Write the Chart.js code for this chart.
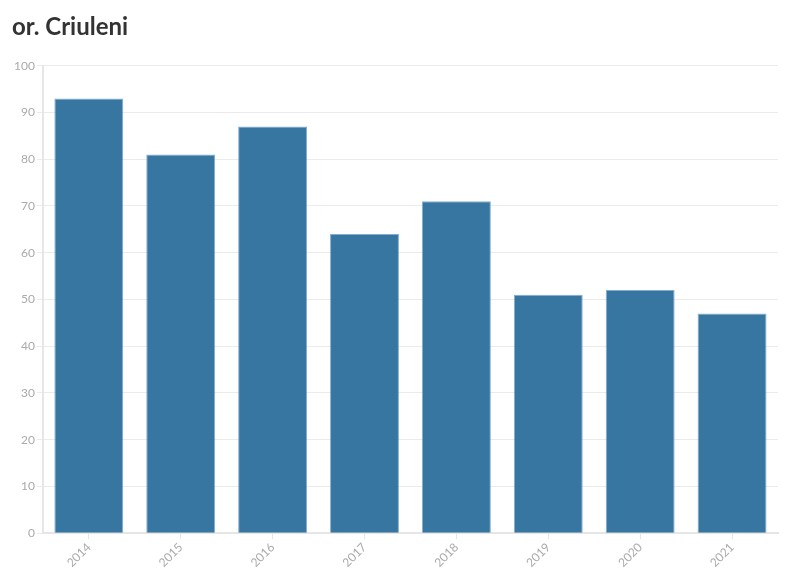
<!DOCTYPE html>
<html>
<head>
<meta charset="utf-8">
<script src="https://cdn.jsdelivr.net/npm/chart.js@4/dist/chart.umd.min.js"></script>
<style>
  html, body { margin: 0; padding: 0; background: #fff; }
  #wrap { width: 796px; height: 575px; }
</style>
</head>
<body>
<div id="wrap"><canvas id="chart"></canvas></div>
<script>
const years = ['2014', '2015', '2016', '2017', '2018', '2019', '2020', '2021'];
const values = [93, 81, 87, 64, 71, 51, 52, 47];
const chartTitle = 'or. Criuleni';

new Chart(document.getElementById('chart'), {
    type: 'bar',
    data: {
        labels: years,
        datasets: [{
            data: values,
            backgroundColor: 'rgba(37,106,152,0.92)',
            borderColor: 'rgba(100,155,195,0.8)',
            borderWidth: {top: 1, left: 1, right: 1, bottom: 0},
            barPercentage: 0.75,
            categoryPercentage: 1.0
        }]
    },
    options: {
        responsive: true,
        maintainAspectRatio: false,
        animation: false,
        layout: {padding: {left: 12, right: 18, top: 0, bottom: 4}},
        plugins: {
            legend: {display: false},
            tooltip: {enabled: false},
            title: {
                display: true,
                text: chartTitle,
                align: 'start',
                color: '#333',
                font: {family: 'Lato', size: 24, weight: 'bold'},
                padding: {top: 13, bottom: 24}
            }
        },
        scales: {
            x: {
                grid: {display: true, drawOnChartArea: false, offset: false, color: '#e6e6e6', tickLength: 6},
                border: {color: '#e6e6e6', width: 2},
                ticks: {
                    color: '#aaa',
                    font: {family: 'Lato', size: 12},
                    maxRotation: 45,
                    minRotation: 45,
                    padding: 1
                }
            },
            y: {
                min: 0,
                max: 100,
                grid: {color: '#ebebeb', tickLength: 6},
                border: {color: '#e6e6e6', width: 2},
                ticks: {
                    stepSize: 10,
                    color: '#aaa',
                    font: {family: 'Lato', size: 12},
                    padding: 2
                }
            }
        }
    }
});
</script>
</body>
</html>
